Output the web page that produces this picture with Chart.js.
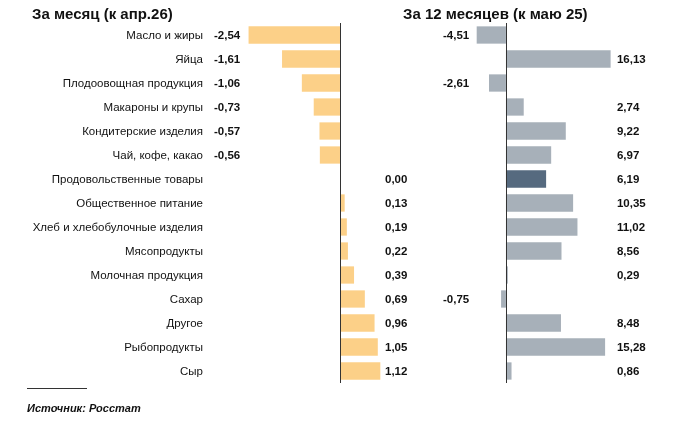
<!DOCTYPE html>
<html>
<head>
<meta charset="utf-8">
<script src="https://cdn.jsdelivr.net/npm/chart.js@4"></script>
<style>
  body { margin: 0; background: #fff; font-family: "Liberation Sans", Arial, sans-serif; }
  #wrap { position: relative; width: 700px; height: 427px; overflow: hidden; }
  canvas { position: absolute; top: 0; }
  .title { position: absolute; top: 5px; font-weight: bold; font-size: 15px; color: #111; }
  #rule { position: absolute; left: 27px; top: 388px; width: 60px; border-top: 1px solid #333; }
  #source { position: absolute; left: 27px; top: 402px; font-size: 11px; font-weight: bold; font-style: italic; color: #111; }
</style>
</head>
<body>
<div id="wrap">
  <canvas id="monthChart" width="420" height="427" style="left:0"></canvas>
  <canvas id="yearChart" width="280" height="427" style="left:420px"></canvas>
  <div class="title" style="left:32px">За месяц (к апр.26)</div>
  <div class="title" style="left:403px">За 12 месяцев (к маю 25)</div>
  <div id="rule"></div>
  <div id="source">Источник: Росстат</div>
</div>
<script>
// категории
const categories = [
    'Масло и жиры', 'Яйца', 'Плодоовощная продукция', 'Макароны и крупы',
    'Кондитерские изделия', 'Чай, кофе, какао', 'Продовольственные товары',
    'Общественное питание', 'Хлеб и хлебобулочные изделия', 'Мясопродукты',
    'Молочная продукция', 'Сахар', 'Другое', 'Рыбопродукты', 'Сыр'
];

// изменение цен за месяц, %
const monthValues = [-2.54, -1.61, -1.06, -0.73, -0.57, -0.56, 0.00, 0.13, 0.19, 0.22, 0.39, 0.69, 0.96, 1.05, 1.12];

// изменение цен за 12 месяцев, %
const yearValues = [-4.51, 16.13, -2.61, 2.74, 9.22, 6.97, 6.19, 10.35, 11.02, 8.56, 0.29, -0.75, 8.48, 15.28, 0.86];

const totalIndex = 6; // Продовольственные товары

function fmt(v) {
    return v.toFixed(2).replace('.', ',');
}

// подписи значений в двух колонках + нулевая ось
function labelsPlugin(negAt, posAt) {
    return {
        id: 'valueLabels',
        afterDatasetsDraw(chart) {
            const ctx = chart.ctx;
            const x = chart.scales.x;
            const y = chart.scales.y;
            const values = chart.data.datasets[0].data;
            const area = chart.chartArea;

            ctx.save();
            ctx.strokeStyle = '#333';
            ctx.lineWidth = 1;
            const zx = Math.round(x.getPixelForValue(0)) + 0.5;
            ctx.beginPath();
            ctx.moveTo(zx, area.top);
            ctx.lineTo(zx, area.bottom);
            ctx.stroke();

            ctx.font = 'bold 11.5px "Liberation Sans", Arial, sans-serif';
            ctx.fillStyle = '#111';
            ctx.textAlign = 'left';
            ctx.textBaseline = 'middle';
            values.forEach((v, i) => {
                const px = v < 0 ? x.getPixelForValue(negAt) : x.getPixelForValue(posAt);
                ctx.fillText(fmt(v), px, y.getPixelForValue(i) + 1);
            });
            ctx.restore();
        }
    };
}

const common = {
    indexAxis: 'y',
    responsive: false,
    animation: false,
    plugins: { legend: { display: false }, tooltip: { enabled: false } }
};

new Chart(document.getElementById('monthChart'), {
    type: 'bar',
    data: {
        labels: categories,
        datasets: [{
            data: monthValues,
            backgroundColor: '#FCD088',
            categoryPercentage: 1,
            barPercentage: 0.72
        }]
    },
    options: {
        ...common,
        layout: { padding: { top: 23, bottom: 44, right: 8, left: 0 } },
        scales: {
            x: { display: false, min: -3.5, max: 2.0 },
            y: {
                grid: { display: false, drawTicks: false },
                border: { display: false },
                ticks: {
                    padding: 11,
                    labelOffset: 1,
                    color: '#111',
                    font: { size: 11.5, family: '"Liberation Sans", Arial, sans-serif' }
                },
                afterFit(scale) { scale.width = 214; }
            }
        }
    },
    plugins: [labelsPlugin(-3.5, 1.25)]
});

new Chart(document.getElementById('yearChart'), {
    type: 'bar',
    data: {
        labels: categories,
        datasets: [{
            data: yearValues,
            backgroundColor: yearValues.map((v, i) => i === totalIndex ? '#566A7F' : '#A7B0B9'),
            categoryPercentage: 1,
            barPercentage: 0.72
        }]
    },
    options: {
        ...common,
        layout: { padding: { top: 23, bottom: 44, left: 23, right: 74 } },
        scales: {
            x: { display: false, min: -9.7, max: 18.5 },
            y: { display: false }
        }
    },
    plugins: [labelsPlugin(-9.7, 17.1)]
});
</script>
</body>
</html>
